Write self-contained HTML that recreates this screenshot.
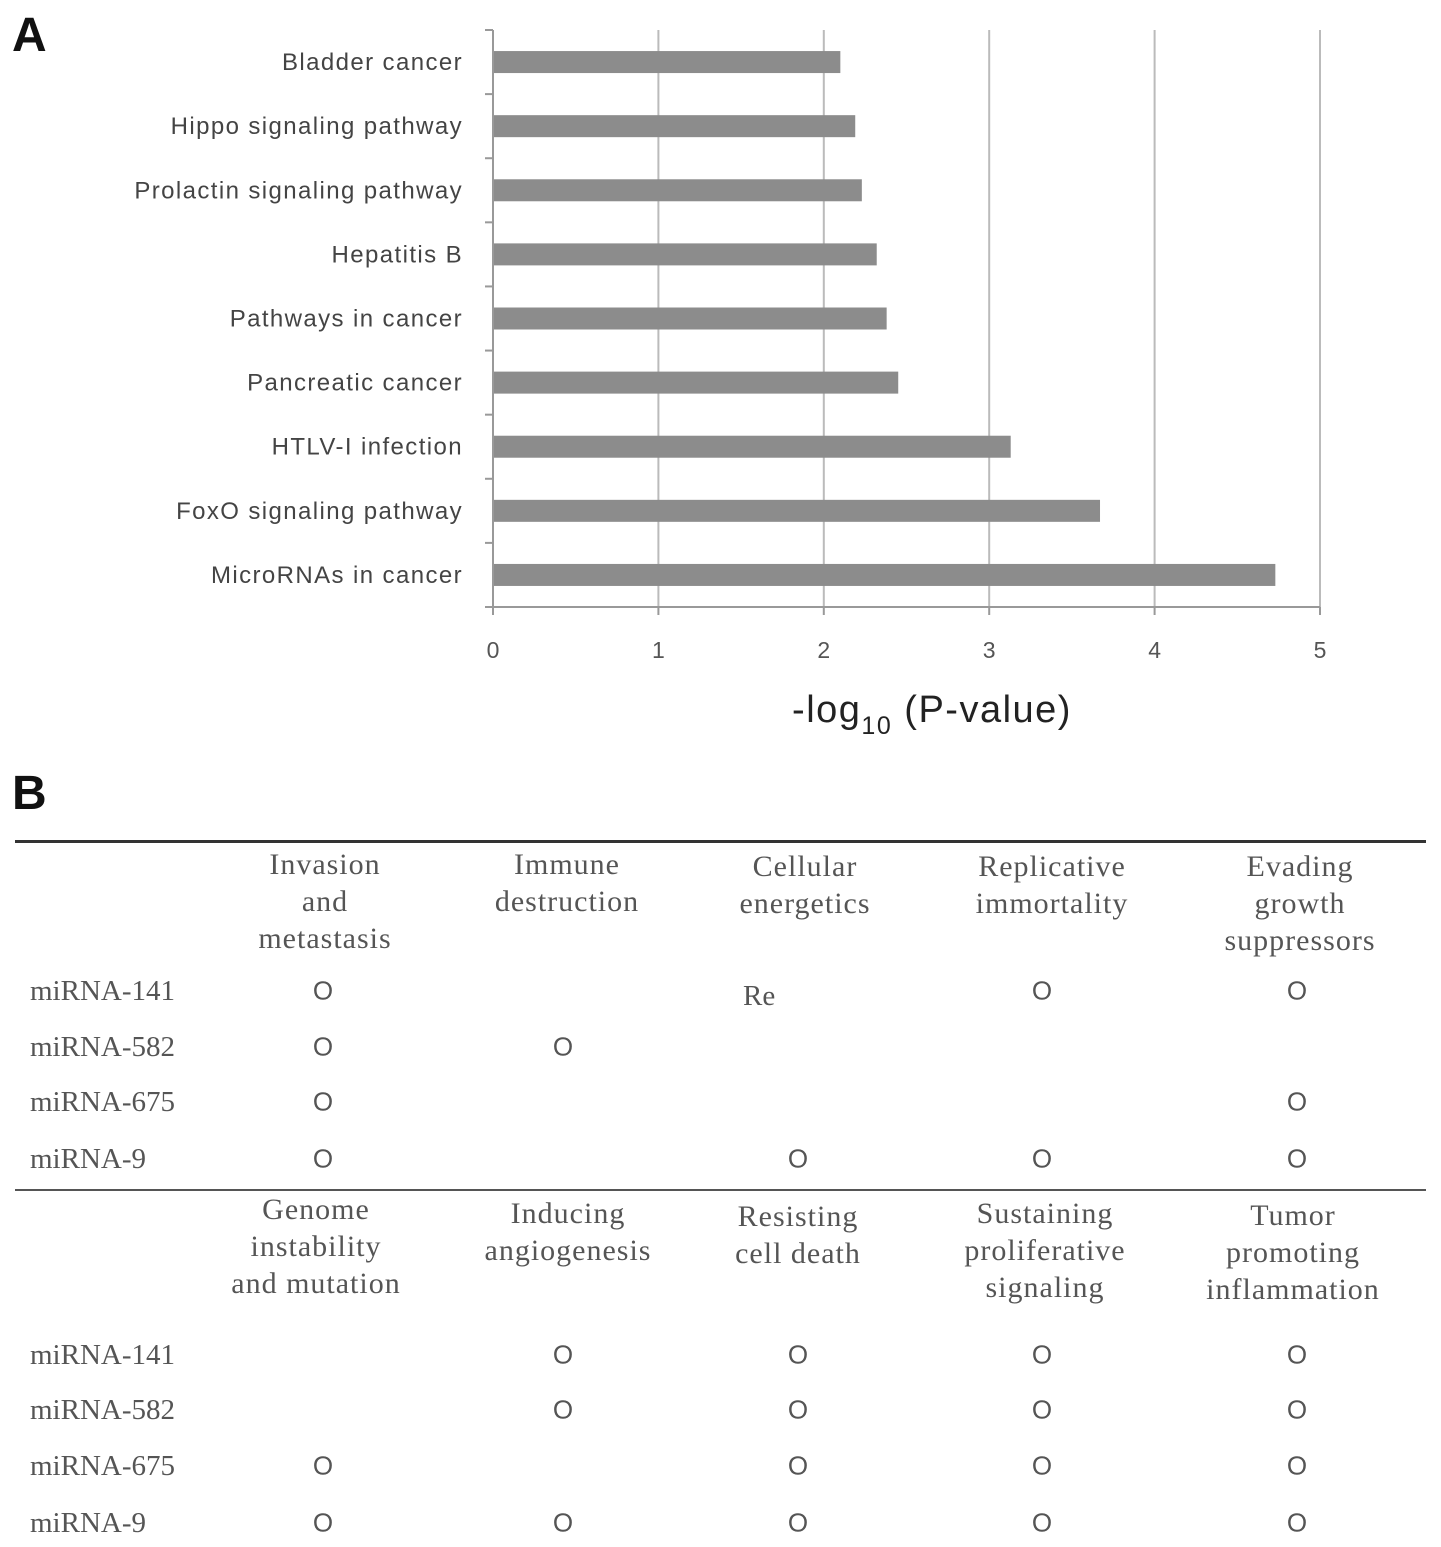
<!DOCTYPE html>
<html><head><meta charset="utf-8"><style>
body{margin:0;background:#fff;width:1441px;height:1547px;overflow:hidden;position:relative;font-family:"Liberation Sans",sans-serif}
.t{position:absolute;color:#555;font-family:"Liberation Serif",serif;font-size:30px;letter-spacing:1px;text-align:center;line-height:37px;white-space:nowrap}
.r{position:absolute;color:#555;font-family:"Liberation Serif",serif;font-size:29px;white-space:nowrap}
.o{position:absolute;color:#555;font-family:"Liberation Sans",sans-serif;font-size:26px;transform:translate(-50%,-50%)}
</style></head><body>
<div style="position:absolute;left:12px;top:8px;font-size:48px;font-weight:bold;color:#111">A</div>
<svg id="chart" width="1441" height="760" style="position:absolute;left:0;top:0"></svg>
<div style="position:absolute;left:12px;top:766px;font-size:48px;font-weight:bold;color:#111">B</div>
<div id="table"></div>
<script>
const categories=["Bladder cancer","Hippo signaling pathway","Prolactin signaling pathway","Hepatitis B","Pathways in cancer","Pancreatic cancer","HTLV-I infection","FoxO signaling pathway","MicroRNAs in cancer"];
const values=[2.10,2.19,2.23,2.32,2.38,2.45,3.13,3.67,4.73];
const ticks=[0,1,2,3,4,5];
const NS="http://www.w3.org/2000/svg";
const svg=document.getElementById('chart');
const x0=493,x1=1320,top0=30,bot=607;
const xs=v=>x0+(x1-x0)*v/5;
const band=(bot-top0)/categories.length;
const yc=i=>top0+band*(i+0.5);
function mk(t,a){const e=document.createElementNS(NS,t);for(const k in a)e.setAttribute(k,a[k]);svg.appendChild(e);return e;}
ticks.forEach(t=>{
 if(t>0){const g=mk('line',{x1:xs(t),x2:xs(t),y1:top0,y2:bot,stroke:'#bbb','stroke-width':2});
 
 }
 const tk=mk('line',{x1:xs(t),x2:xs(t),y1:bot,y2:bot+8,stroke:'#999','stroke-width':2});
 
 
 const l=mk('text',{x:xs(t),y:658,'text-anchor':'middle','font-size':23,fill:'#555','font-family':'Liberation Sans, sans-serif'});
 l.textContent=t;
 
 
});
const ax=mk('line',{x1:x0,x2:x1,y1:bot,y2:bot,stroke:'#999','stroke-width':2});


const ay=mk('line',{x1:x0,x2:x0,y1:top0,y2:bot,stroke:'#999','stroke-width':2});


for(let i=0;i<=categories.length;i++){const k=mk('line',{x1:x0-8,x2:x0,y1:top0+band*i,y2:top0+band*i,stroke:'#999','stroke-width':2});
 
 }
categories.forEach((c,i)=>{
 const b=mk('rect',{x:x0+1,y:yc(i)-11,width:xs(values[i])-x0-1,height:22,fill:'#8c8c8c'});
 
 
 const l=mk('text',{x:463,y:yc(i)+8,'text-anchor':'end','font-size':24,'letter-spacing':1.4,fill:'#444','font-family':'Liberation Sans, sans-serif'});
 l.textContent=c;
 
 
});
const tt=mk('text',{x:932,y:722,'text-anchor':'middle','font-size':38,'letter-spacing':1.5,fill:'#222','font-family':'Liberation Sans, sans-serif'});
tt.innerHTML='-log<tspan font-size="25" dy="12">10</tspan><tspan dy="-12"> (P-value)</tspan>';


</script>
<div style="position:absolute;left:15px;top:840px;width:1411px;height:3px;background:#333"></div>
<div style="position:absolute;left:15px;top:1189px;width:1411px;height:2px;background:#555"></div>
<div class="t" style="left:225px;top:846px;width:200px">Invasion<br>and<br>metastasis</div>
<div class="t" style="left:467px;top:846px;width:200px">Immune<br>destruction</div>
<div class="t" style="left:705px;top:848px;width:200px">Cellular<br>energetics</div>
<div class="t" style="left:952px;top:848px;width:200px">Replicative<br>immortality</div>
<div class="t" style="left:1200px;top:848px;width:200px">Evading<br>growth<br>suppressors</div>
<div class="t" style="left:216px;top:1191px;width:200px">Genome<br>instability<br>and mutation</div>
<div class="t" style="left:468px;top:1195px;width:200px">Inducing<br>angiogenesis</div>
<div class="t" style="left:698px;top:1198px;width:200px">Resisting<br>cell death</div>
<div class="t" style="left:945px;top:1195px;width:200px">Sustaining<br>proliferative<br>signaling</div>
<div class="t" style="left:1193px;top:1197px;width:200px">Tumor<br>promoting<br>inflammation</div>
<div class="r" style="left:743px;top:980px">Re</div>
<script>
const rows=["miRNA-141","miRNA-582","miRNA-675","miRNA-9"];
const colsX1=[323,563,798,1042,1297];
const marks1=[[1,0,0,1,1],[1,1,0,0,0],[1,0,0,0,1],[1,0,1,1,1]];
const marks2=[[0,1,1,1,1],[0,1,1,1,1],[1,0,1,1,1],[1,1,1,1,1]];
const rowY1=[991,1047,1102,1159], rowY2=[1355,1410,1466,1523];
const tb=document.getElementById('table');
function block(marks,ry){
 rows.forEach((r,i)=>{
  const d=document.createElement('div');d.className='r';d.textContent=r;
  d.style.left='30px';d.style.top=(ry[i]-16)+'px';
  
  
  tb.appendChild(d);
  marks[i].forEach((m,j)=>{if(!m)return;
   const o=document.createElement('div');o.className='o';o.textContent='O';
   o.style.left=colsX1[j]+'px';o.style.top=ry[i]+'px';
   
   
   tb.appendChild(o);});
 });
}
block(marks1,rowY1);block(marks2,rowY2);
</script>
</body></html>
